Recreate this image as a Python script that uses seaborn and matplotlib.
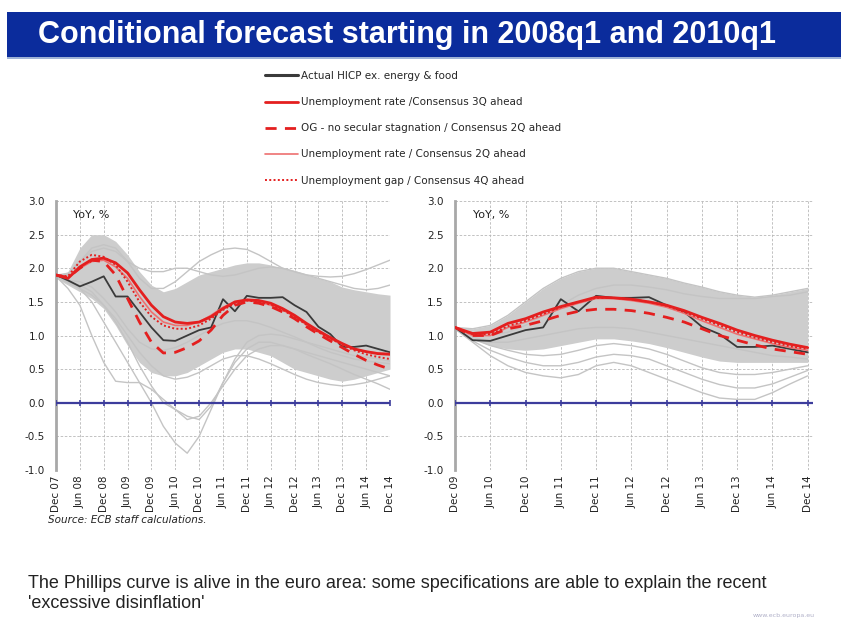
import numpy as np
import pandas as pd
import seaborn as sns
import matplotlib.pyplot as plt
from matplotlib.lines import Line2D
from matplotlib.patches import Rectangle

# Quarterly data, left panel Dec 07 .. Dec 14 (29 quarters), right panel Dec 09 .. Dec 14 (21 quarters)
actual = [1.9, 1.82, 1.73, 1.8, 1.88, 1.58, 1.58, 1.35, 1.12, 0.93, 0.92, 1.0, 1.08, 1.12, 1.54,
          1.36, 1.59, 1.56, 1.56, 1.57, 1.45, 1.35, 1.13, 1.02, 0.83, 0.83, 0.85, 0.8, 0.75]

left_ur3 = [1.9, 1.85, 2.02, 2.13, 2.15, 2.08, 1.93, 1.68, 1.45, 1.28, 1.2, 1.18, 1.2, 1.28, 1.4,
            1.5, 1.53, 1.52, 1.48, 1.4, 1.3, 1.18, 1.07, 0.97, 0.88, 0.8, 0.76, 0.73, 0.72]
left_og2 = [1.9, 1.86, 2.0, 2.12, 2.1, 1.9, 1.55, 1.2, 0.9, 0.74, 0.75, 0.82, 0.92, 1.08, 1.3,
            1.45, 1.5, 1.48, 1.43, 1.35, 1.25, 1.13, 1.02, 0.92, 0.82, 0.72, 0.63, 0.56, 0.5]
left_ur2 = [1.9, 1.85, 2.0, 2.1, 2.12, 2.02, 1.85, 1.58, 1.35, 1.2, 1.15, 1.15, 1.2, 1.3, 1.42,
            1.5, 1.52, 1.5, 1.45, 1.38, 1.28, 1.16, 1.05, 0.95, 0.87, 0.8, 0.76, 0.74, 0.73]
left_gap4 = [1.9, 1.88, 2.1, 2.2, 2.17, 2.05, 1.8, 1.5, 1.28, 1.15, 1.1, 1.1, 1.15, 1.25, 1.38,
             1.48, 1.52, 1.5, 1.46, 1.38, 1.28, 1.16, 1.05, 0.96, 0.86, 0.78, 0.72, 0.68, 0.65]

right_ur3 = [1.12, 1.03, 1.05, 1.18, 1.25, 1.35, 1.43, 1.5, 1.57, 1.56, 1.54, 1.5, 1.45, 1.37, 1.27,
             1.18, 1.08, 1.0, 0.93, 0.87, 0.82]
right_og2 = [1.12, 1.0, 1.0, 1.1, 1.15, 1.22, 1.3, 1.36, 1.39, 1.39, 1.37, 1.33, 1.27, 1.2, 1.1,
             1.0, 0.93, 0.86, 0.8, 0.76, 0.72]
right_ur2 = [1.12, 1.0, 1.0, 1.12, 1.2, 1.3, 1.4, 1.48, 1.55, 1.55, 1.52, 1.48, 1.42, 1.33, 1.22,
             1.12, 1.02, 0.95, 0.88, 0.82, 0.78]
right_gap4 = [1.12, 1.02, 1.02, 1.14, 1.22, 1.32, 1.42, 1.5, 1.56, 1.56, 1.54, 1.5, 1.44, 1.35, 1.25,
              1.15, 1.05, 0.97, 0.9, 0.84, 0.8]

# grey fan of alternative specifications: dense band + some outlying paths
left_band_hi = [1.9, 1.95, 2.3, 2.5, 2.5, 2.4, 2.2, 1.95, 1.75, 1.65, 1.7, 1.8, 1.9, 1.95, 2.0,
                2.05, 2.08, 2.08, 2.05, 2.0, 1.95, 1.9, 1.85, 1.8, 1.72, 1.68, 1.65, 1.62, 1.6]
left_band_lo = [1.85, 1.75, 1.65, 1.55, 1.4, 1.15, 0.85, 0.6, 0.45, 0.4, 0.4, 0.45, 0.55, 0.65, 0.75,
                0.8, 0.8, 0.75, 0.7, 0.6, 0.5, 0.45, 0.4, 0.35, 0.32, 0.35, 0.4, 0.45, 0.5]
left_grey = [
    [1.9, 1.9, 2.1, 2.3, 2.35, 2.3, 2.1, 1.85, 1.7, 1.7, 1.8, 1.95, 2.1, 2.2, 2.28, 2.3, 2.28, 2.2,
     2.1, 2.0, 1.95, 1.9, 1.88, 1.87, 1.88, 1.92, 1.98, 2.05, 2.12],
    [1.88, 1.7, 1.45, 1.0, 0.6, 0.32, 0.3, 0.3, 0.2, 0.05, -0.1, -0.25, -0.2, 0.0, 0.25, 0.5, 0.7,
     0.8, 0.85, 0.85, 0.8, 0.75, 0.7, 0.65, 0.6, 0.55, 0.5, 0.45, 0.4],
    [1.88, 1.8, 1.7, 1.5, 1.2, 0.9, 0.6, 0.3, 0.0, -0.35, -0.6, -0.75, -0.5, -0.1, 0.3, 0.6, 0.8,
     0.9, 0.9, 0.85, 0.8, 0.72, 0.65, 0.58, 0.5, 0.42, 0.35, 0.28, 0.2],
    [1.88, 1.8, 1.75, 1.65, 1.45, 1.2, 0.9, 0.55, 0.25, 0.0, -0.1, -0.2, -0.25, -0.05, 0.3, 0.65,
     0.9, 1.0, 1.02, 1.0, 0.95, 0.9, 0.85, 0.8, 0.75, 0.7, 0.68, 0.65, 0.62],
    [1.88, 1.78, 1.7, 1.6, 1.45, 1.25, 1.0, 0.75, 0.55, 0.4, 0.35, 0.38, 0.45, 0.55, 0.65, 0.7, 0.7,
     0.65, 0.58, 0.5, 0.42, 0.35, 0.3, 0.27, 0.25, 0.27, 0.3, 0.35, 0.4],
    [1.9, 1.92, 2.1, 2.25, 2.3, 2.25, 2.1, 2.0, 1.95, 1.95, 2.0, 2.0, 1.95, 1.9, 1.88, 1.9, 1.95,
     2.0, 2.02, 2.0, 1.95, 1.9, 1.85, 1.8, 1.75, 1.7, 1.68, 1.7, 1.75],
    [1.88, 1.82, 1.8, 1.72, 1.55, 1.35, 1.1, 0.9, 0.8, 0.78, 0.82, 0.9, 1.0, 1.1, 1.18, 1.22, 1.22,
     1.18, 1.12, 1.05, 0.98, 0.9, 0.82, 0.75, 0.7, 0.65, 0.62, 0.6, 0.58],
]

right_band_hi = [1.12, 1.1, 1.15, 1.3, 1.5, 1.7, 1.85, 1.95, 2.0, 2.0, 1.95, 1.9, 1.85, 1.78, 1.72,
                 1.65, 1.6, 1.57, 1.6, 1.65, 1.7]
right_band_lo = [1.1, 0.95, 0.85, 0.8, 0.78, 0.8, 0.85, 0.9, 0.95, 0.95, 0.92, 0.88, 0.82, 0.75, 0.68,
                 0.62, 0.6, 0.6, 0.6, 0.6, 0.6]
right_grey = [
    [1.1, 0.9, 0.7, 0.55, 0.45, 0.4, 0.37, 0.42, 0.55, 0.6, 0.55, 0.45, 0.35, 0.25, 0.15, 0.07, 0.05,
     0.05, 0.15, 0.28, 0.4],
    [1.1, 0.92, 0.78, 0.68, 0.6, 0.55, 0.55, 0.6, 0.68, 0.72, 0.7, 0.65, 0.55, 0.45, 0.35, 0.27, 0.22,
     0.22, 0.28, 0.38, 0.48],
    [1.1, 0.95, 0.85, 0.78, 0.72, 0.7, 0.72, 0.78, 0.85, 0.88, 0.85, 0.8, 0.72, 0.62, 0.52, 0.45, 0.42,
     0.42, 0.45, 0.5, 0.55],
    [1.12, 1.1, 1.15, 1.3, 1.5, 1.7, 1.85, 1.95, 2.0, 2.0, 1.95, 1.9, 1.85, 1.78, 1.72, 1.65, 1.6, 1.57,
     1.6, 1.65, 1.7],
    [1.1, 1.0, 1.0, 1.05, 1.15, 1.3, 1.45, 1.6, 1.7, 1.75, 1.75, 1.72, 1.68, 1.62, 1.58, 1.55, 1.55,
     1.55, 1.58, 1.6, 1.65],
    [1.1, 0.98, 0.9, 0.9, 0.95, 1.0, 1.05, 1.1, 1.12, 1.12, 1.1, 1.05, 1.0, 0.95, 0.9, 0.85, 0.8, 0.75,
     0.7, 0.68, 0.65],
]

left_ticks = ['Dec 07', 'Jun 08', 'Dec 08', 'Jun 09', 'Dec 09', 'Jun 10', 'Dec 10', 'Jun 11',
              'Dec 11', 'Jun 12', 'Dec 12', 'Jun 13', 'Dec 13', 'Jun 14', 'Dec 14']
right_ticks = ['Dec 09', 'Jun 10', 'Dec 10', 'Jun 11', 'Dec 11', 'Jun 12', 'Dec 12', 'Jun 13',
               'Dec 13', 'Jun 14', 'Dec 14']

legend_labels = ['Actual HICP ex. energy & food',
                 'Unemployment rate /Consensus 3Q ahead',
                 'OG - no secular stagnation / Consensus 2Q ahead',
                 'Unemployment rate / Consensus 2Q ahead',
                 'Unemployment gap / Consensus 4Q ahead']

sns.set_style('white')
plt.rcParams['font.family'] = ['DejaVu Sans']
plt.rcParams['axes.unicode_minus'] = False

RED = '#e41f1f'
PINK = '#ee7070'
BLACK = '#3a3a3a'
GREY = '#c4c4c4'
NAVY = '#3c3c9c'

fig = plt.figure(figsize=(8.41, 6.21), dpi=100)
ax_l = fig.add_axes([56 / 841, 151 / 621, 334 / 841, 269 / 621])
ax_r = fig.add_axes([455 / 841, 151 / 621, 358 / 841, 269 / 621])


def draw_panel(ax, actual_vals, ur3, og2, ur2, gap4, band_hi, band_lo, greys, ticks, x_max):
    x = np.arange(len(ur3))
    ax.fill_between(x, band_lo, band_hi, color='#cdcdcd', lw=0, zorder=1)
    for g in greys:
        sns.lineplot(x=x, y=g, ax=ax, color=GREY, lw=1.0, zorder=2)
    sns.lineplot(x=x, y=actual_vals, ax=ax, color=BLACK, lw=1.3, zorder=4)
    sns.lineplot(x=x, y=ur2, ax=ax, color=PINK, lw=1.2, zorder=5)
    sns.lineplot(x=x, y=gap4, ax=ax, color=RED, lw=1.4, ls=(0, (1, 1.2)), zorder=5)
    sns.lineplot(x=x, y=og2, ax=ax, color=RED, lw=2.0, ls=(0, (4, 3)), zorder=5)
    sns.lineplot(x=x, y=ur3, ax=ax, color=RED, lw=2.0, zorder=6)

    tick_pos = np.arange(0, len(ur3), 2)
    ax.axhline(0, color=NAVY, lw=1.6, zorder=7)
    ax.plot(tick_pos, np.zeros(len(tick_pos)), ls='none', marker='|', ms=5, mew=1.2,
            color=NAVY, zorder=7)

    ax.set_xlim(0, x_max)
    ax.set_ylim(-1.0, 3.0)
    ax.set_yticks(np.arange(-1.0, 3.01, 0.5))
    ax.set_yticklabels([f'{v:.1f}' for v in np.arange(-1.0, 3.01, 0.5)], fontsize=7.5, color='#222222')
    ax.set_xticks(tick_pos)
    ax.set_xticklabels(ticks, rotation=90, fontsize=7.5, color='#222222')
    ax.tick_params(axis='y', length=0, pad=8)
    ax.tick_params(axis='x', length=0, pad=4)
    ax.grid(True, color='#b8b8b8', ls=(0, (3, 2)), lw=0.6)
    ax.set_axisbelow(True)
    for side in ['top', 'right', 'bottom']:
        ax.spines[side].set_visible(False)
    ax.spines['left'].set_color('#a8a8a8')
    ax.spines['left'].set_linewidth(2.0)
    ax.set_xlabel('')
    ax.set_ylabel('')
    ax.text(0.05, 0.948, 'YoY, %', transform=ax.transAxes, fontsize=8, va='center', ha='left',
            color='#222222')


draw_panel(ax_l, actual, left_ur3, left_og2, left_ur2, left_gap4,
           left_band_hi, left_band_lo, left_grey, left_ticks, 28)
draw_panel(ax_r, actual[8:], right_ur3, right_og2, right_ur2, right_gap4,
           right_band_hi, right_band_lo, right_grey, right_ticks, 20.3)

# title bar
fig.patches.append(Rectangle((7 / 841, 1 - 57 / 621), 834 / 841, 45 / 621, transform=fig.transFigure,
                             facecolor='#0b2c9c', edgecolor='none', zorder=0))
fig.patches.append(Rectangle((7 / 841, 1 - 59 / 621), 834 / 841, 2 / 621, transform=fig.transFigure,
                             facecolor='#9fb3d6', edgecolor='none', zorder=0))
fig.text(38 / 841, 1 - 35 / 621, 'Conditional forecast starting in 2008q1 and 2010q1',
         fontsize=22, fontweight='bold', color='white', va='center', ha='left',
         family=['Liberation Sans', 'DejaVu Sans'])

# legend
handles = [Line2D([], [], color=BLACK, lw=2.2),
           Line2D([], [], color=RED, lw=2.0),
           Line2D([], [], color=RED, lw=2.0, ls=(0, (4, 3))),
           Line2D([], [], color=PINK, lw=1.2),
           Line2D([], [], color=RED, lw=1.4, ls=(0, (1, 1.2)))]
fig.legend(handles, legend_labels, loc='upper left', bbox_to_anchor=(265 / 841, 1 - 71 / 621),
           frameon=False, fontsize=7.5, labelspacing=1.55, handlelength=3.2, handletextpad=0.3,
           borderpad=0, borderaxespad=0)

fig.text(48 / 841, 1 - 520 / 621, 'Source: ECB staff calculations.', fontsize=7.5, style='italic',
         va='center', ha='left', color='#222222')
fig.text(28 / 841, 1 - 583 / 621,
         'The Phillips curve is alive in the euro area: some specifications are able to explain the recent',
         fontsize=13, va='center', ha='left', color='#222222', family=['Liberation Sans', 'DejaVu Sans'])
fig.text(28 / 841, 1 - 604 / 621, "'excessive disinflation'",
         fontsize=13, va='center', ha='left', color='#222222', family=['Liberation Sans', 'DejaVu Sans'])
fig.text(815 / 841, 1 - 616 / 621, 'www.ecb.europa.eu', fontsize=4.5, va='center', ha='right',
         color='#b0b0c8')

fig.savefig('out.png', dpi=100, facecolor='white')
